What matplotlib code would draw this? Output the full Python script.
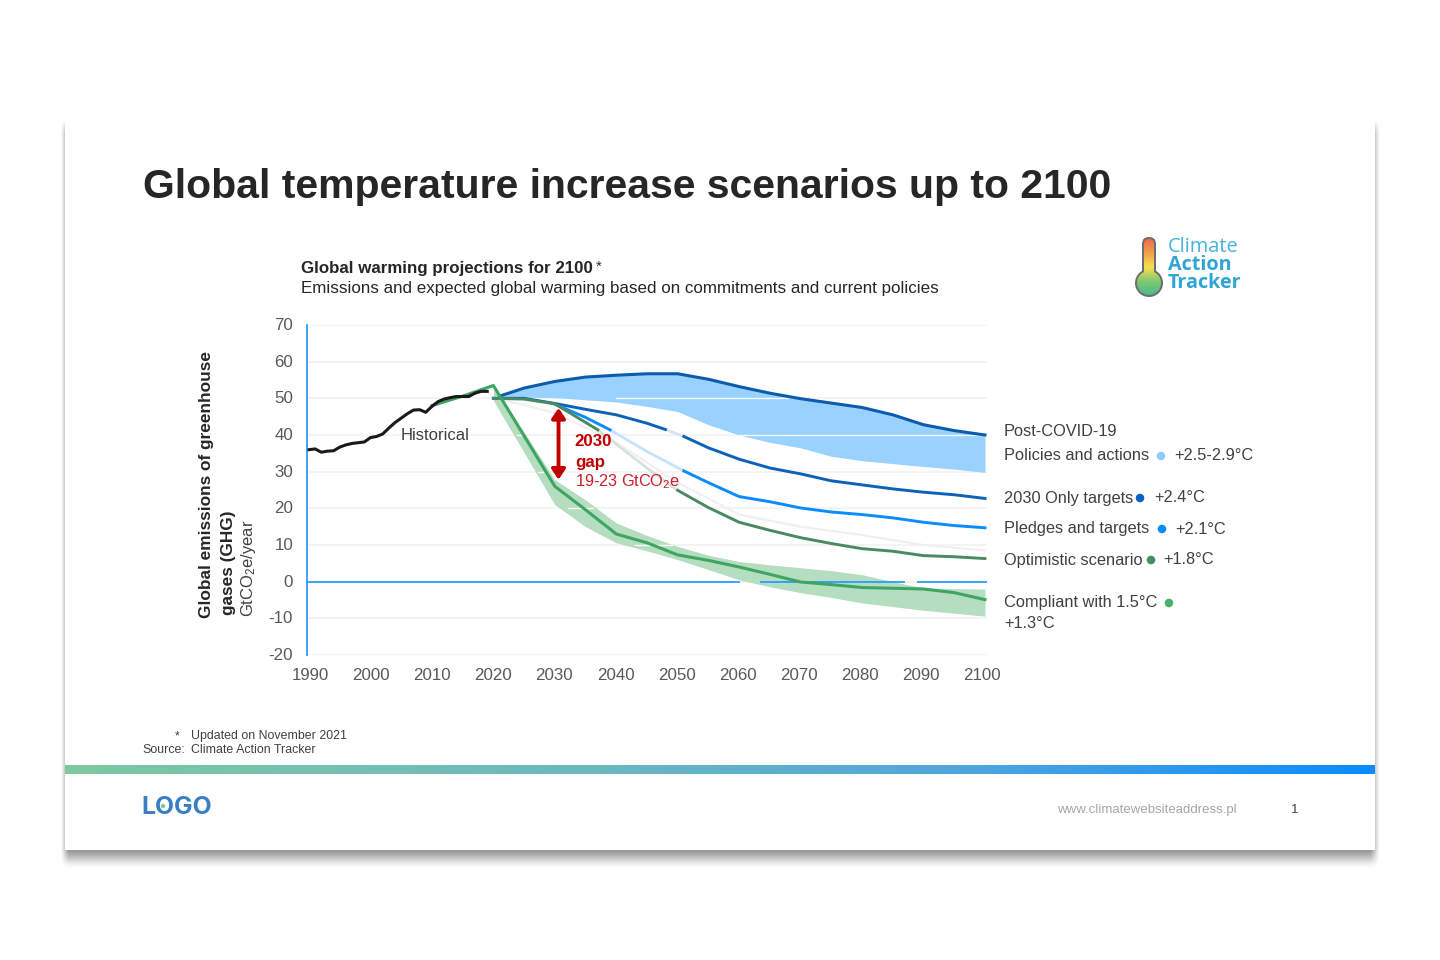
import numpy as np
import matplotlib
matplotlib.use('Agg')
import matplotlib.pyplot as plt
from matplotlib.patches import Rectangle, Circle, FancyBboxPatch
from matplotlib.colors import LinearSegmentedColormap

plt.rcParams['font.family'] = ['Liberation Sans', 'DejaVu Sans']
plt.rcParams['mathtext.default'] = 'regular'

#=================================================================
# Values (GtCO2e/year)

hist_years = list(range(1990, 2020))
hist_vals = [36.0, 36.2, 35.3, 35.6, 35.7, 36.7, 37.3, 37.7, 37.9, 38.1,
             39.3, 39.6, 40.3, 41.9, 43.4, 44.6, 45.8, 46.8, 46.9, 46.2,
             47.8, 49.1, 49.8, 50.2, 50.5, 50.5, 50.5, 51.4, 51.9, 51.9]

band_years = [2021, 2025, 2030, 2035, 2040, 2045, 2050, 2055, 2060, 2065, 2070, 2075, 2080, 2085, 2090, 2095, 2100]
policy_high = [50.6, 52.8, 54.6, 55.8, 56.3, 56.7, 56.7, 55.2, 53.2, 51.4, 49.9, 48.7, 47.5, 45.5, 42.8, 41.2, 40.0]
policy_low = [50.0, 50.3, 50.2, 49.6, 49.0, 47.8, 46.4, 42.8, 40.0, 38.0, 36.5, 34.2, 33.0, 32.2, 31.4, 30.7, 29.8]

target_years = [2020, 2025, 2030, 2035, 2040, 2045, 2048, 2051, 2055, 2060, 2065, 2070, 2075, 2080, 2085, 2090, 2095, 2100]
target_vals = [50.0, 50.0, 48.6, 47.0, 45.5, 43.2, 41.5, 39.6, 36.5, 33.4, 31.0, 29.4, 27.5, 26.4, 25.3, 24.4, 23.7, 22.7]
target_fade = (2048, 2051)

pledge_years = [2030, 2035, 2039, 2045, 2051, 2055, 2060, 2065, 2070, 2075, 2080, 2085, 2090, 2095, 2100]
pledge_vals = [48.4, 44.8, 41.4, 35.5, 30.2, 27.0, 23.2, 21.8, 20.1, 19.0, 18.3, 17.4, 16.2, 15.3, 14.7]
pledge_fade = (2039, 2051)

optim_years = [2020, 2025, 2030, 2037, 2040, 2045, 2050, 2055, 2060, 2065, 2070, 2075, 2080, 2085, 2090, 2095, 2100]
optim_vals = [50.0, 49.8, 48.5, 41.4, 37.5, 31.0, 24.9, 20.2, 16.2, 14.0, 12.0, 10.4, 9.0, 8.3, 7.1, 6.8, 6.3]
optim_fade = (2037, 2050)

faint_years = [2020, 2025, 2030, 2040, 2050, 2060, 2070, 2080, 2090, 2100]
faint_vals = [50.0, 48.2, 46.0, 38.0, 27.0, 18.3, 15.0, 12.7, 10.0, 8.5]

comp_years = [2010, 2015, 2020, 2030, 2035, 2040, 2045, 2050, 2055, 2060, 2065, 2070, 2075, 2080, 2085, 2090, 2095, 2100]
comp_vals = [48.0, 50.6, 53.5, 26.0, 19.6, 13.0, 10.6, 7.3, 5.8, 4.0, 2.0, -0.1, -0.8, -1.6, -1.8, -2.0, -3.0, -4.9]

cband_years = [2020, 2030, 2035, 2040, 2045, 2050, 2055, 2060, 2065, 2070, 2075, 2080, 2085, 2090, 2095, 2100]
cband_high = [53.7, 27.8, 22.3, 16.0, 12.6, 9.6, 7.2, 5.5, 4.6, 3.8, 3.0, 1.9, 0.0, -1.7, -1.9, -2.0]
cband_low = [49.4, 21.0, 15.0, 10.6, 8.4, 6.0, 3.3, 0.5, -1.4, -3.0, -4.3, -5.8, -6.8, -7.8, -8.6, -9.4]

# Gridline pieces that show as white through the bands, and the zero line pieces
white_grid = [(50, 2040, 2068), (40, 2060, 2100), (40, 2023.8, 2024.6), (30, 2027.3, 2028.1),
              (20, 2032.2, 2036.2), (10, 2043, 2049)]
zero_spans = [(1989.67, 2060.2), (2063.4, 2087), (2088.9, 2100.33)]

x_ticks = list(range(1990, 2101, 10))
y_ticks = list(range(-20, 71, 10))

right_labels = [('Post-COVID-19', 432), ('Policies and actions', 456), ('+2.5-2.9°C', 456),
                ('2030 Only targets', 498), ('+2.4°C', 498), ('Pledges and targets', 529), ('+2.1°C', 529),
                ('Optimistic scenario', 560), ('+1.8°C', 560), ('Compliant with 1.5°C', 603), ('+1.3°C', 623)]
label_x = [1004, 1004, 1174, 1004, 1154, 1004, 1175, 1004, 1163, 1004, 1004]
dot_x = [1161, 1140, 1162, 1151, 1169]
dot_y = [456, 498, 529, 560, 603]
dot_col = ['#8CCBFF', '#0563C1', '#0A8CFF', '#4A8A62', '#4CB06C']

#=================================================================
# Slide background

fig = plt.figure(figsize=(14.4, 9.6), dpi=100, facecolor='white')

def pixel_axes(zorder):
    a = fig.add_axes([0, 0, 1, 1])
    a.set_xlim(0, 1440)
    a.set_ylim(960, 0)
    a.axis('off')
    a.set_zorder(zorder)
    a.patch.set_alpha(0)
    a.set_autoscale_on(False)
    return a

bg = pixel_axes(1)
top = pixel_axes(10)

xx, yy = np.meshgrid(np.arange(1440) + 0.5, np.arange(960) + 0.5)
def ramp(v):
    v = np.clip(v, 0, 1)
    return v ** 2 * (3 - 2 * v)
shade = ramp((xx - 60) / 10) * ramp((1381 - xx) / 12) * ramp((yy - 118) / 16) * ramp((870 - yy) / 24)
shadow = np.zeros((960, 1440, 4))
shadow[..., 3] = shade * 0.45
bg.imshow(shadow, extent=[0, 1440, 960, 0], aspect='auto', zorder=1, interpolation='bilinear')
bg.add_patch(Rectangle((65, 120), 1310, 730, fc='white', ec='none', zorder=2))

bar_cmap = LinearSegmentedColormap.from_list('bar', [(0, '#7FC8A0'), (0.41, '#6BB8C0'), (0.7, '#4DA5E0'), (1, '#0A8CFF')])
bg.imshow(np.linspace(0, 1, 512)[None, :], cmap=bar_cmap, extent=[65, 1375, 774, 765], aspect='auto', zorder=3)

def say(x, y, s, **kw):
    kw.setdefault('va', 'center')
    kw.setdefault('color', '#404040')
    kw.setdefault('fontsize', 11.8)
    return top.text(x, y, s, **kw)

say(143, 187, 'Global temperature increase scenarios up to 2100', fontsize=29.4, fontweight='bold', color='#262626')
say(301, 268, 'Global warming projections for 2100', fontweight='bold', color='#262626', fontsize=12.2)
say(596, 267, '*', color='#262626', fontsize=11)
say(301, 289, 'Emissions and expected global warming based on commitments and current policies', color='#262626', fontsize=12.26)

say(207, 485, 'Global emissions of greenhouse', rotation=90, ha='center', fontweight='bold', color='#262626', fontsize=12.4)
say(228, 563, 'gases (GHG)', rotation=90, ha='center', fontweight='bold', color='#262626', fontsize=12.4)
say(248, 568, r'GtCO$_2$e/year', rotation=90, ha='center', color='#404040', fontsize=12)

say(175, 736, '*', fontsize=8.9)
say(191, 736, 'Updated on November 2021', fontsize=8.9)
say(142, 750, 'Source:', fontsize=8.9)
say(191, 750, 'Climate Action Tracker', fontsize=8.9)

say(141, 808, 'LOGO', fontsize=17.8, fontweight='bold', color='#3A7FC4', family=['Inter', 'DejaVu Sans'])
top.add_patch(Circle((163, 806), 2.2, fc='#7FC8A0', ec='none'))
say(1057, 810, 'www.climatewebsiteaddress.pl', fontsize=9.5, color='#A6A6A6')
say(1291, 810, '1', fontsize=9.5)

#-----------------
# Thermometer logo

therm_cmap = LinearSegmentedColormap.from_list('therm', ['#EF6B4F', '#F3A24A', '#F7E04F', '#7CC874', '#4DB98E'])
therm_grad = np.linspace(0, 1, 128)[:, None]
bg.add_patch(FancyBboxPatch((1142, 237), 14, 50, boxstyle='round,pad=0,rounding_size=7', fc='#6E6E6E', ec='none', zorder=3))
bg.add_patch(Circle((1149, 283), 14, fc='#6E6E6E', ec='none', zorder=3))
for clip in [FancyBboxPatch((1144, 239), 10, 46, boxstyle='round,pad=0,rounding_size=5', fc='none', ec='none', transform=bg.transData),
             Circle((1149, 283), 12, transform=bg.transData)]:
    im = bg.imshow(therm_grad, cmap=therm_cmap, extent=[1135, 1163, 296, 239], aspect='auto', zorder=4)
    im.set_clip_path(clip)

logo_font = ['Open Sans', 'DejaVu Sans']
say(1168, 247, 'Climate', fontsize=14.4, color='#45B3DC', family=logo_font)
say(1168, 265, 'Action', fontsize=14.2, fontweight='bold', color='#2FA5D6', family=logo_font)
say(1168, 283, 'Tracker', fontsize=14.2, fontweight='bold', color='#2FA5D6', family=logo_font)

#=================================================================
# Chart

def piece(years, vals, lo, hi):
    years = np.array(years)
    keep = (years >= lo) & (years <= hi)
    return years[keep], np.array(vals)[keep]

ax = fig.add_axes([307 / 1440, 1 - 655 / 960, 680 / 1440, 330 / 960])
ax.patch.set_alpha(0)
ax.set_zorder(5)
ax.set_xlim(1989.67, 2100.33)
ax.set_ylim(-20, 70)
for s in ['top', 'right', 'bottom']:
    ax.spines[s].set_visible(False)
ax.spines['left'].set_color('#2E9BFF')
ax.spines['left'].set_linewidth(1.3)
ax.set_xticks(x_ticks)
ax.set_yticks(y_ticks)
ax.set_xticklabels([])
ax.set_yticklabels([])
ax.tick_params(length=0)
ax.grid(axis='y', color='#F2F2F2', lw=1.2, zorder=0)
ax.set_axisbelow(True)

# tick labels sit slightly off the axis in the original, so they go on the slide layer
for i, yr in enumerate(x_ticks):
    say(310 + 61.1 * i, 675, str(yr), ha='center', color='#595959', fontsize=12.2)
for val in y_ticks:
    py = 960 - ax.transData.transform((1990, val))[1]
    say(293, py + 0.5, str(val), ha='right', color='#595959', fontsize=12.2)

ax.plot(faint_years, faint_vals, color='#F0F0F0', lw=1.5, zorder=1)

ax.fill_between(band_years, policy_low, policy_high, color='#99D1FF', lw=0, zorder=2)
ax.fill_between(cband_years, cband_low, cband_high, color='#B5DDC0', lw=0, zorder=2)
for val, x0, x1 in white_grid:
    ax.plot([x0, x1], [val, val], color='white', lw=1, alpha=0.9, zorder=3)
for x0, x1 in zero_spans:
    ax.plot([x0, x1], [0, 0], color='#1E96FF', lw=1.2, zorder=3, solid_capstyle='butt')

ax.plot(band_years, policy_high, color='#0B5CAD', lw=2.2, zorder=4)

ax.plot(*piece(target_years, target_vals, 2020, target_fade[0]), color='#0B62B8', lw=2.1, zorder=4)
ax.plot(*piece(target_years, target_vals, *target_fade), color='#D5E5F5', lw=2.0, zorder=3)
ax.plot(*piece(target_years, target_vals, target_fade[1], 2100), color='#0B62B8', lw=2.1, zorder=4)

ax.plot(*piece(pledge_years, pledge_vals, 2030, pledge_fade[0]), color='#0A8CFF', lw=2.1, zorder=4)
ax.plot(*piece(pledge_years, pledge_vals, *pledge_fade), color='#C6E2FF', lw=2.0, zorder=3)
ax.plot(*piece(pledge_years, pledge_vals, pledge_fade[1], 2100), color='#0A8CFF', lw=2.1, zorder=4)

ax.plot(*piece(optim_years, optim_vals, 2020, optim_fade[0]), color='#4A8A62', lw=2.1, zorder=5)
ax.plot(*piece(optim_years, optim_vals, *optim_fade), color='#D5E3DA', lw=2.0, zorder=3)
ax.plot(*piece(optim_years, optim_vals, optim_fade[1], 2100), color='#4A8A62', lw=2.1, zorder=5)

ax.plot(comp_years, comp_vals, color='#3FA563', lw=2.2, zorder=5)
ax.plot(hist_years, hist_vals, color='#1A1A1A', lw=2.2, zorder=6)

ax.annotate('', xy=(2030.6, 47.4), xytext=(2030.6, 27.8), zorder=7,
            arrowprops=dict(arrowstyle='<|-|>,head_width=0.4,head_length=0.6', color='#C00000', lw=2.8, shrinkA=0, shrinkB=0))

say(401, 436, 'Historical', fontsize=12)
say(574, 442, '2030', color='#C00000', fontweight='bold', fontsize=12.2)
say(575, 462, 'gap', color='#C00000', fontweight='bold', fontsize=12.2)
say(575, 482, r'19-23 GtCO$_2$e', color='#C8202A', fontsize=11.7)

for (txt, py), px in zip(right_labels, label_x):
    say(px, py, txt)
top.scatter(dot_x, dot_y, s=38, c=dot_col, lw=0)

fig.savefig('out.png', dpi=100)
